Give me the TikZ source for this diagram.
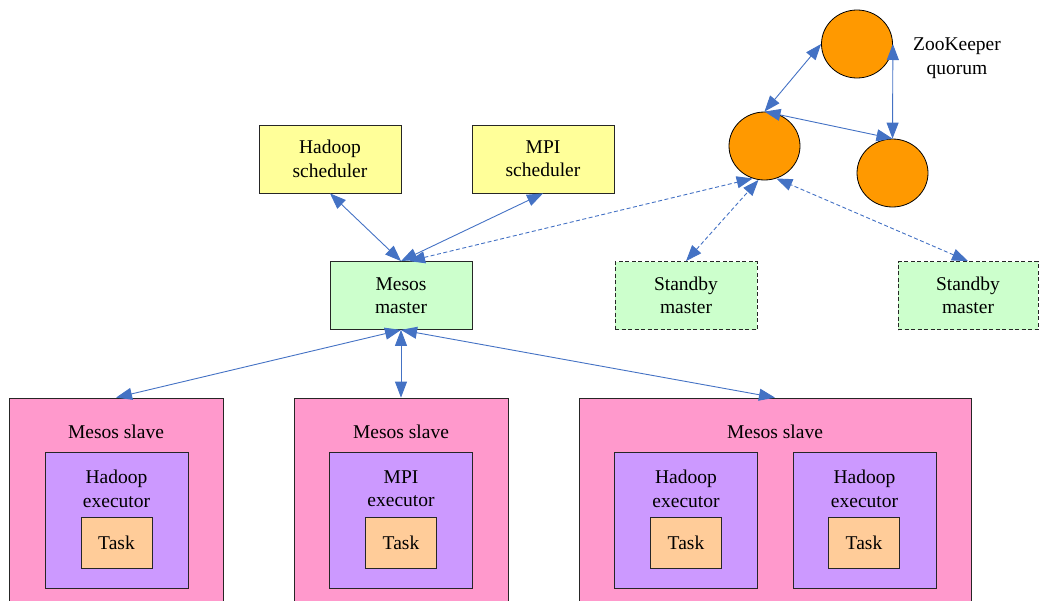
\documentclass[tikz,border=0pt]{standalone}
\usepackage{fontspec}
\setmainfont{Liberation Serif}
\usetikzlibrary{arrows.meta,shapes.geometric}
\definecolor{schedY}{HTML}{FFFF99}
\definecolor{mastG}{HTML}{CCFFCC}
\definecolor{slaveP}{HTML}{FF99CC}
\definecolor{execV}{HTML}{CC99FF}
\definecolor{taskO}{HTML}{FFCC99}
\definecolor{zkO}{HTML}{FF9900}
\definecolor{lineB}{HTML}{4472C4}
\newcommand\lblfont{\fontsize{19.5}{23.4}\selectfont}
\begin{document}
\begin{tikzpicture}[x=1pt,y=-1pt,
  box/.style={draw=black!85, line width=0.8pt, inner sep=0pt, align=center, font=\lblfont, rectangle},
  sched/.style={box, fill=schedY, minimum width=142pt, minimum height=68pt},
  mast/.style={box, fill=mastG, minimum width=142pt, minimum height=68pt},
  stby/.style={mast, dashed, dash pattern=on 4pt off 2.5pt},
  slavebox/.style={box, fill=slaveP},
  execbox/.style={box, fill=execV, minimum width=143pt, minimum height=136pt},
  taskbox/.style={box, fill=taskO, minimum width=71pt, minimum height=51pt},
  zk/.style={ellipse, draw=black, line width=0.8pt, fill=zkO, minimum width=71pt, minimum height=68pt, inner sep=0pt},
  lbl/.style={inner sep=0pt, align=center, font=\lblfont},
  conn/.style={draw=lineB, line width=0.9pt, {Triangle[length=16pt,width=12pt]}-{Triangle[length=16pt,width=12pt]}},
  dconn/.style={conn, dash pattern=on 4pt off 2.5pt}
]
\useasboundingbox (0,0) rectangle (1039,600);

% schedulers and masters
\node[sched] (hs) at (330,159) {Hadoop\\scheduler};
\node[sched] (ms) at (543,159) {MPI\\scheduler};
\node[mast] (mm) at (401,295.5) {Mesos\\master};
\node[stby] (sb1) at (686,295.5) {Standby\\master};
\node[stby, minimum width=140pt] (sb2) at (968,295.5) {Standby\\master};

% ZooKeeper
\node[zk] (zt) at (857,44) {};
\node[zk] (zl) at (764.5,146) {};
\node[zk] (zr) at (892.5,173) {};
\node[lbl] (zkl) at (957,58) {ZooKeeper\\quorum};

% slaves
\node[slavebox, minimum width=214pt, minimum height=212pt] (s1) at (116,504) {};
\node[slavebox, minimum width=214pt, minimum height=212pt] (s2) at (401,504) {};
\node[slavebox, minimum width=392pt, minimum height=212pt] (s3) at (775,504) {};
\node[lbl] (s1l) at (116,432) {Mesos slave};
\node[lbl] (s2l) at (401,432) {Mesos slave};
\node[lbl] (s3l) at (775,432) {Mesos slave};

\node[execbox] (e1) at (116.5,520) {};
\node[execbox] (e2) at (401,520) {};
\node[execbox] (e3) at (686,520) {};
\node[execbox] (e4) at (864.5,520) {};
\node[lbl] (e1l) at (116.5,489) {Hadoop\\executor};
\node[lbl] (e2l) at (401,489) {MPI\\executor};
\node[lbl] (e3l) at (686,489) {Hadoop\\executor};
\node[lbl] (e4l) at (864.5,489) {Hadoop\\executor};

\node[taskbox] (t1) at (116.5,542.5) {Task};
\node[taskbox] (t2) at (401,542.5) {Task};
\node[taskbox] (t3) at (686,542.5) {Task};
\node[taskbox] (t4) at (864,542.5) {Task};

% connectors
\draw[conn] (hs.south) -- (mm.north);
\draw[conn] (ms.south) -- (mm.north);
\draw[conn] (mm.south) -- (s1.north);
\draw[conn] (mm.south) -- (s2.north);
\draw[conn] (mm.south) -- (s3.north);
\draw[conn] (zl.north) -- (zt.west);
\draw[conn] (zt.east) -- (zr.north);
\draw[conn] (zl.north) -- (zr.north);
\draw[dconn] ([xshift=8pt]mm.north) -- (zl.250);
\draw[dconn] (sb1.north) -- (zl.260);
\draw[dconn] (sb2.north) -- (zl.290);
\end{tikzpicture}
\end{document}
